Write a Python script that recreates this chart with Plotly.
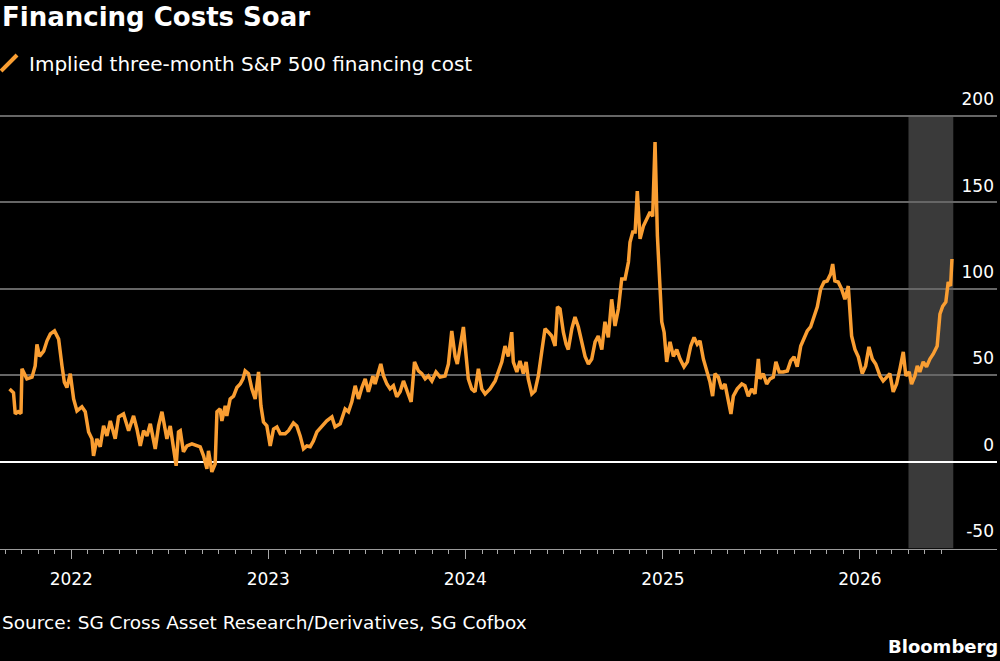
import plotly.graph_objects as go
import pandas as pd

# Time as decimal years, values in bps
t_years = [
    2021.687, 2021.707, 2021.716, 2021.731, 2021.745, 2021.750, 2021.775, 2021.801, 2021.817, 2021.826,
    2021.839, 2021.860, 2021.877, 2021.894, 2021.915, 2021.936, 2021.953, 2021.965, 2021.978, 2021.995,
    2022.012, 2022.029, 2022.054, 2022.071, 2022.088, 2022.105, 2022.113, 2022.130, 2022.147, 2022.164,
    2022.181, 2022.198, 2022.223, 2022.240, 2022.265, 2022.291, 2022.316, 2022.333, 2022.350, 2022.367,
    2022.384, 2022.401, 2022.426, 2022.443, 2022.460, 2022.485, 2022.502, 2022.519, 2022.532, 2022.544,
    2022.553, 2022.569, 2022.587, 2022.612, 2022.637, 2022.654, 2022.671, 2022.688, 2022.696, 2022.713,
    2022.730, 2022.739, 2022.755, 2022.764, 2022.781, 2022.789, 2022.806, 2022.823, 2022.840, 2022.857,
    2022.871, 2022.882, 2022.899, 2022.916, 2022.933, 2022.950, 2022.962, 2022.975, 2022.992, 2023.009,
    2023.026, 2023.043, 2023.060, 2023.085, 2023.102, 2023.127, 2023.144, 2023.161, 2023.178, 2023.195,
    2023.212, 2023.228, 2023.246, 2023.271, 2023.296, 2023.322, 2023.338, 2023.364, 2023.389, 2023.406,
    2023.423, 2023.440, 2023.457, 2023.474, 2023.491, 2023.507, 2023.530, 2023.541, 2023.558, 2023.570,
    2023.583, 2023.601, 2023.617, 2023.634, 2023.651, 2023.668, 2023.685, 2023.702, 2023.724, 2023.741,
    2023.761, 2023.778, 2023.795, 2023.811, 2023.829, 2023.850, 2023.871, 2023.896, 2023.913, 2023.930,
    2023.947, 2023.958, 2023.972, 2023.989, 2024.003, 2024.014, 2024.031, 2024.048, 2024.065, 2024.082,
    2024.099, 2024.124, 2024.150, 2024.166, 2024.184, 2024.200, 2024.217, 2024.234, 2024.242, 2024.260,
    2024.276, 2024.293, 2024.307, 2024.318, 2024.336, 2024.352, 2024.369, 2024.386, 2024.403, 2024.420,
    2024.437, 2024.454, 2024.466, 2024.479, 2024.496, 2024.510, 2024.521, 2024.539, 2024.555, 2024.572,
    2024.589, 2024.606, 2024.623, 2024.640, 2024.657, 2024.673, 2024.691, 2024.707, 2024.724, 2024.741,
    2024.758, 2024.775, 2024.792, 2024.809, 2024.826, 2024.834, 2024.848, 2024.860, 2024.871, 2024.885,
    2024.902, 2024.919, 2024.936, 2024.949, 2024.961, 2024.973, 2024.983, 2024.995, 2025.007, 2025.020,
    2025.037, 2025.054, 2025.071, 2025.088, 2025.108, 2025.125, 2025.142, 2025.159, 2025.175, 2025.189,
    2025.206, 2025.223, 2025.240, 2025.253, 2025.265, 2025.282, 2025.299, 2025.316, 2025.333, 2025.346,
    2025.358, 2025.378, 2025.401, 2025.417, 2025.434, 2025.451, 2025.468, 2025.485, 2025.493, 2025.510,
    2025.527, 2025.544, 2025.561, 2025.574, 2025.591, 2025.611, 2025.632, 2025.649, 2025.666, 2025.682,
    2025.700, 2025.716, 2025.733, 2025.750, 2025.767, 2025.784, 2025.801, 2025.818, 2025.834, 2025.852,
    2025.862, 2025.873, 2025.890, 2025.907, 2025.924, 2025.941, 2025.958, 2025.975, 2025.992, 2026.012,
    2026.029, 2026.046, 2026.063, 2026.080, 2026.102, 2026.118, 2026.136, 2026.152, 2026.169, 2026.186,
    2026.203, 2026.220, 2026.233, 2026.250, 2026.262, 2026.279, 2026.291, 2026.304, 2026.321, 2026.338,
    2026.355, 2026.372, 2026.392, 2026.406, 2026.420, 2026.436, 2026.448, 2026.460, 2026.467,
]

financing_cost = [
    42.2, 40.0, 27.7, 29.0, 28.0, 53.8, 48.0, 49.0, 55.5, 68.0,
    61.0, 64.0, 70.0, 74.0, 75.7, 71.0, 55.5, 46.0, 43.0, 51.0,
    36.4, 29.5, 31.8, 29.0, 17.3, 13.3, 3.5, 13.3, 8.7, 20.8,
    15.0, 23.7, 13.3, 26.0, 27.7, 18.0, 26.6, 19.0, 9.2, 18.0,
    15.0, 22.0, 7.5, 20.8, 29.0, 13.3, 20.8, 7.5, -2.3, 17.3,
    18.0, 5.8, 9.2, 10.4, 9.2, 8.7, 3.5, -4.0, 6.4, -5.8,
    -1.2, 29.0, 30.6, 23.7, 32.4, 26.6, 36.4, 38.0, 43.0, 45.0,
    48.0, 52.6, 51.0, 42.2, 36.4, 52.0, 32.4, 23.0, 20.8, 9.2,
    19.0, 20.2, 16.2, 16.2, 18.0, 22.5, 20.8, 15.0, 7.5, 9.2,
    8.7, 12.0, 17.3, 20.8, 23.7, 26.0, 20.2, 22.0, 30.6, 29.0,
    34.7, 44.0, 36.4, 43.0, 48.0, 40.5, 49.7, 45.0, 52.0, 56.6,
    50.0, 45.0, 42.2, 44.0, 37.6, 40.5, 46.8, 41.0, 34.7, 57.8,
    52.6, 51.0, 48.0, 49.7, 46.8, 52.0, 49.0, 49.7, 56.6, 75.7,
    61.0, 56.6, 67.0, 78.0, 61.0, 48.0, 42.2, 40.5, 53.8, 42.2,
    39.3, 42.2, 46.8, 52.0, 57.8, 67.0, 61.0, 75.0, 57.8, 52.0,
    58.4, 51.0, 57.8, 48.0, 39.3, 41.0, 49.7, 63.6, 77.0, 75.0,
    72.8, 67.0, 89.6, 88.4, 75.0, 68.0, 65.0, 77.0, 83.8, 78.0,
    69.4, 61.0, 56.6, 59.5, 69.4, 72.8, 65.0, 81.0, 72.0, 94.0,
    78.6, 88.4, 105.8, 105.8, 115.6, 127.0, 133.0, 133.0, 156.6, 129.0,
    136.4, 140.5, 144.5, 142.0, 185.0, 130.6, 107.5, 81.0, 75.0, 57.8,
    69.4, 61.0, 65.0, 59.5, 55.0, 57.8, 67.0, 72.0, 68.0, 70.0,
    59.5, 52.0, 46.0, 38.0, 51.0, 49.0, 42.2, 45.0, 35.3, 27.7,
    38.0, 42.2, 45.0, 44.0, 38.0, 42.2, 39.3, 59.5, 48.0, 51.0,
    45.0, 48.0, 49.0, 57.8, 52.0, 52.0, 52.6, 58.4, 60.7, 55.0,
    67.0, 71.0, 75.7, 78.0, 83.8, 89.6, 100.0, 104.0, 104.6, 108.7,
    114.4, 104.6, 104.0, 100.0, 94.0, 101.7, 72.8, 65.0, 60.7, 51.0,
    55.5, 66.5, 59.5, 56.6, 49.7, 46.8, 49.0, 51.0, 40.5, 45.0,
    53.8, 63.6, 49.7, 52.0, 45.0, 49.7, 55.5, 52.0, 57.8, 55.0,
    59.5, 62.4, 67.0, 85.5, 90.0, 92.5, 104.0, 101.7, 117.3,
]

y_ticks = [-50, 0, 50, 100, 150, 200]
shade_start = "2026-04-01"
shade_end = "2026-06-23"

title_text = "Financing Costs Soar"
series_name = "Implied three-month S&P 500 financing cost"
source_text = "Source: SG Cross Asset Research/Derivatives, SG Cofbox"
brand_text = "Bloomberg"

ORANGE = "#fa9e32"
FONT = "DejaVu Sans"

base = pd.Timestamp("2022-01-01")
dates = [base + pd.to_timedelta((t - 2022.0) * 365.25, unit="D") for t in t_years]

fig = go.Figure()

fig.add_trace(go.Scatter(
    x=dates, y=financing_cost, mode="lines",
    line=dict(color=ORANGE, width=3.5),
    showlegend=False, hoverinfo="x+y",
))
# legend entry with a slash symbol
fig.add_trace(go.Scatter(
    x=[None], y=[None], mode="markers", name=series_name,
    marker=dict(symbol="line-ne", size=16, color=ORANGE,
                line=dict(color=ORANGE, width=4)),
    showlegend=True,
))

fig.add_shape(type="rect", xref="x", yref="y",
              x0=shade_start, x1=shade_end, y0=-50, y1=200,
              fillcolor="#3a3a3a", line=dict(width=0), layer="below")

minor_vals = pd.date_range("2021-09-01", "2026-06-01", freq="MS")

fig.update_layout(
    width=1000, height=661,
    paper_bgcolor="black", plot_bgcolor="black",
    margin=dict(l=0, r=3, t=78, b=112, autoexpand=False),
    font=dict(family=FONT, color="white", size=17),
    legend=dict(x=-0.011, y=1.0318, xanchor="left", yanchor="middle",
                bgcolor="rgba(0,0,0,0)", font=dict(size=20, color="white"),
                itemsizing="trace"),
    annotations=[
        dict(text="<b>" + title_text + "</b>", xref="paper", yref="paper",
             x=0, y=1.1295, xanchor="left", yanchor="middle", showarrow=False,
             font=dict(size=26, color="white", family=FONT)),
        dict(text=source_text, xref="paper", yref="paper",
             x=0, y=-0.155, xanchor="left", yanchor="middle", showarrow=False,
             font=dict(size=18.5, color="white", family=FONT)),
        dict(text="<b>" + brand_text + "</b>", xref="paper", yref="paper",
             x=1.003, y=-0.208, xanchor="right", yanchor="middle", showarrow=False,
             font=dict(size=18, color="white", family=FONT)),
    ],
)

fig.update_xaxes(
    type="date",
    range=["2021-08-22", "2026-09-12"],
    showgrid=False, zeroline=False,
    showline=True, linecolor="#9a9a9a", linewidth=1,
    ticks="outside", ticklen=9, tickcolor="#aaaaaa", tickwidth=1,
    tick0="2022-01-01", dtick="M12", tickformat="%Y",
    tickfont=dict(size=17, color="white"),
    ticklabelstandoff=6,
    minor=dict(tickmode="array", tickvals=list(minor_vals), ticks="outside",
               ticklen=4, tickcolor="#aaaaaa", tickwidth=1, showgrid=False),
    fixedrange=True,
)

fig.update_yaxes(
    range=[-50.4, 222], side="right",
    tickmode="array", tickvals=y_ticks, ticktext=[str(v) for v in y_ticks],
    ticklabelposition="inside top", ticklabelshift=-5,
    showgrid=True, gridcolor="#666666", gridwidth=1.5,
    zeroline=True, zerolinecolor="white", zerolinewidth=2,
    showline=False, ticks="",
    tickfont=dict(size=17, color="white"),
    fixedrange=True,
)

fig.write_html("out.html")
